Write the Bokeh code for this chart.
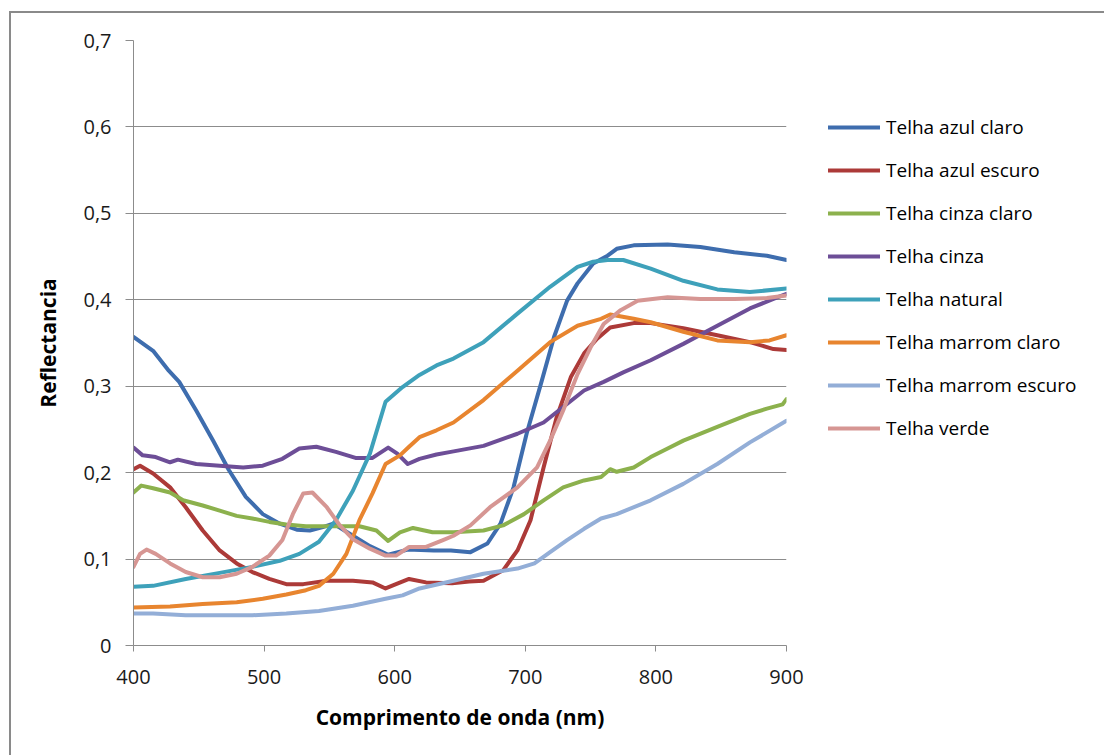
from bokeh.plotting import figure
from bokeh.models import Range1d, FixedTicker, CustomJSTickFormatter, Legend, LegendItem
from bokeh.embed import file_html
from bokeh.resources import INLINE

# Reflectance spectra of roof tiles (wavelength in nm, reflectance 0-1)
wl_azul_claro = [400, 415, 427, 435, 448, 461, 473, 486, 499, 512, 525, 535, 545, 553, 568, 581, 595,
                 610, 630, 643, 658, 671, 681, 691, 701, 712, 722, 732, 740, 752, 763, 770, 783, 809,
                 834, 860, 885, 900]
r_azul_claro = [0.357, 0.341, 0.318, 0.305, 0.272, 0.237, 0.203, 0.172, 0.152, 0.141, 0.134, 0.133,
                0.137, 0.141, 0.127, 0.115, 0.105, 0.111, 0.110, 0.110, 0.108, 0.118, 0.141, 0.183,
                0.245, 0.303, 0.357, 0.399, 0.419, 0.442, 0.451, 0.459, 0.463, 0.464, 0.461, 0.455,
                0.451, 0.446]

wl_azul_escuro = [400, 405, 415, 428, 440, 453, 466, 479, 491, 504, 517, 530, 548, 568, 583, 593, 601,
                  611, 624, 644, 657, 668, 683, 694, 704, 714, 724, 735, 745, 755, 765, 783, 796, 821,
                  847, 872, 890, 900]
r_azul_escuro = [0.204, 0.208, 0.199, 0.183, 0.160, 0.133, 0.110, 0.095, 0.085, 0.077, 0.071, 0.071,
                 0.075, 0.075, 0.073, 0.066, 0.071, 0.077, 0.073, 0.072, 0.074, 0.075, 0.087, 0.110,
                 0.145, 0.206, 0.264, 0.311, 0.338, 0.355, 0.368, 0.373, 0.373, 0.367, 0.359, 0.351,
                 0.343, 0.342]

wl_cinza_claro = [400, 406, 415, 428, 438, 453, 466, 479, 491, 504, 517, 532, 553, 573, 586, 595, 604,
                  614, 629, 645, 668, 683, 699, 714, 729, 745, 758, 765, 770, 783, 796, 809, 821, 847,
                  872, 885, 897, 900]
r_cinza_claro = [0.177, 0.185, 0.182, 0.177, 0.168, 0.162, 0.156, 0.150, 0.147, 0.143, 0.140, 0.138,
                 0.138, 0.138, 0.133, 0.121, 0.131, 0.136, 0.131, 0.131, 0.133, 0.139, 0.152, 0.168,
                 0.183, 0.191, 0.195, 0.204, 0.201, 0.206, 0.218, 0.228, 0.237, 0.253, 0.268, 0.274,
                 0.279, 0.285]

wl_cinza = [400, 407, 417, 428, 434, 448, 466, 484, 499, 514, 527, 540, 555, 570, 583, 595, 602, 610,
            619, 632, 643, 668, 694, 714, 729, 745, 760, 775, 796, 821, 847, 872, 890, 900]
r_cinza = [0.229, 0.220, 0.218, 0.212, 0.215, 0.210, 0.208, 0.206, 0.208, 0.216, 0.228, 0.230, 0.224,
           0.217, 0.217, 0.229, 0.222, 0.210, 0.216, 0.221, 0.224, 0.231, 0.245, 0.258, 0.276, 0.295,
           0.305, 0.316, 0.330, 0.349, 0.370, 0.390, 0.401, 0.407]

wl_natural = [400, 415, 440, 466, 491, 512, 527, 542, 555, 568, 581, 593, 606, 619, 632, 645, 668,
              694, 719, 740, 752, 763, 775, 796, 821, 847, 872, 900]
r_natural = [0.068, 0.069, 0.077, 0.084, 0.091, 0.098, 0.106, 0.120, 0.145, 0.179, 0.222, 0.282,
             0.299, 0.313, 0.324, 0.332, 0.351, 0.384, 0.415, 0.438, 0.444, 0.446, 0.446, 0.436,
             0.422, 0.412, 0.409, 0.413]

wl_marrom_claro = [400, 428, 453, 479, 499, 517, 532, 542, 553, 563, 573, 583, 593, 604, 611, 619,
                   632, 645, 668, 694, 719, 740, 758, 765, 783, 796, 821, 847, 872, 887, 900]
r_marrom_claro = [0.044, 0.045, 0.048, 0.050, 0.054, 0.059, 0.064, 0.069, 0.083, 0.106, 0.145, 0.176,
                  0.210, 0.220, 0.230, 0.241, 0.249, 0.258, 0.284, 0.318, 0.351, 0.370, 0.378, 0.383,
                  0.378, 0.374, 0.363, 0.353, 0.351, 0.353, 0.359]

wl_marrom_escuro = [400, 415, 440, 466, 491, 517, 542, 568, 593, 606, 619, 645, 668, 694, 707, 719,
                    732, 745, 758, 770, 796, 821, 847, 872, 900]
r_marrom_escuro = [0.037, 0.037, 0.035, 0.035, 0.035, 0.037, 0.040, 0.046, 0.054, 0.058, 0.066,
                   0.075, 0.083, 0.089, 0.095, 0.108, 0.122, 0.135, 0.147, 0.152, 0.168, 0.187, 0.210,
                   0.235, 0.260]

wl_verde = [400, 405, 410, 417, 428, 440, 453, 466, 479, 491, 504, 514, 522, 530, 537, 548, 558, 568,
            581, 593, 601, 611, 624, 637, 645, 658, 673, 694, 709, 719, 729, 740, 750, 760, 773, 786,
            809, 834, 860, 885, 900]
r_verde = [0.091, 0.106, 0.111, 0.106, 0.095, 0.085, 0.079, 0.079, 0.083, 0.091, 0.104, 0.122,
           0.152, 0.176, 0.177, 0.160, 0.139, 0.123, 0.112, 0.104, 0.104, 0.114, 0.114, 0.122, 0.127,
           0.139, 0.160, 0.183, 0.206, 0.237, 0.272, 0.314, 0.345, 0.372, 0.388, 0.399, 0.403, 0.401,
           0.401, 0.402, 0.405]

series = [
    ("Telha azul claro", wl_azul_claro, r_azul_claro, "#3E6DAE"),
    ("Telha azul escuro", wl_azul_escuro, r_azul_escuro, "#AC3A38"),
    ("Telha cinza claro", wl_cinza_claro, r_cinza_claro, "#8CB14D"),
    ("Telha cinza", wl_cinza, r_cinza, "#6D4E97"),
    ("Telha natural", wl_natural, r_natural, "#3EA1BA"),
    ("Telha marrom claro", wl_marrom_claro, r_marrom_claro, "#E8852F"),
    ("Telha marrom escuro", wl_marrom_escuro, r_marrom_escuro, "#93AED7"),
    ("Telha verde", wl_verde, r_verde, "#D69693"),
]

y_ticks = [0.0, 0.1, 0.2, 0.3, 0.4, 0.5, 0.6, 0.7]
x_ticks = [400, 500, 600, 700, 800, 900]

p = figure(frame_width=653, frame_height=605, output_backend="svg", toolbar_location=None,
           x_range=Range1d(400, 900), y_range=Range1d(0, 0.7),
           min_border_left=122, min_border_right=0, min_border_top=27, min_border_bottom=110)

p.styles = {"margin-left": "9px", "margin-top": "11px",
            "border-left": "2px solid #8a8a8a", "border-top": "2px solid #8a8a8a"}

p.outline_line_color = None
p.background_fill_color = "white"
p.border_fill_color = "white"

grey = "#8c8c8c"
p.xgrid.grid_line_color = None
p.ygrid.grid_line_color = grey
p.ygrid.grid_line_width = 1
p.ygrid.ticker = FixedTicker(ticks=y_ticks)

p.yaxis.ticker = FixedTicker(ticks=y_ticks)
p.yaxis.formatter = CustomJSTickFormatter(
    code="return tick == 0 ? '0' : tick.toFixed(1).replace('.', ',');")
p.xaxis.ticker = FixedTicker(ticks=x_ticks)

for ax in (p.xaxis, p.yaxis):
    ax.axis_line_color = grey
    ax.major_tick_line_color = grey
    ax.minor_tick_line_color = None
    ax.major_tick_in = 0
    ax.major_label_text_font = "Open Sans"
    ax.major_label_text_font_size = "20px"
    ax.major_label_text_color = "#1a1a1a"
    ax.axis_label_text_font = "Open Sans"
    ax.axis_label_text_font_style = "bold"
    ax.axis_label_text_font_size = "21px"
    ax.axis_label_text_color = "#000000"

p.yaxis.major_tick_out = 8
p.xaxis.major_tick_out = 6
p.yaxis.major_label_standoff = 14
p.xaxis.major_label_standoff = 18
p.yaxis.axis_label = "Reflectancia"
p.xaxis.axis_label = "Comprimento de onda (nm)"
p.yaxis.axis_label_standoff = 18
p.xaxis.axis_label_standoff = 16

items = []
for name, xs, ys, color in series:
    r = p.line(xs, ys, line_color=color, line_width=4, line_join="round", line_cap="round")
    items.append(LegendItem(label=name, renderers=[r]))

legend = Legend(items=items, location=(42, 204), padding=0, margin=0, spacing=17,
                glyph_width=52, glyph_height=20, label_height=20, label_standoff=6,
                border_line_color=None, background_fill_alpha=0,
                label_text_font="Open Sans", label_text_font_size="19px",
                label_text_color="#000000")
p.add_layout(legend, "right")

open("out.html", "w").write(file_html(p, INLINE))
